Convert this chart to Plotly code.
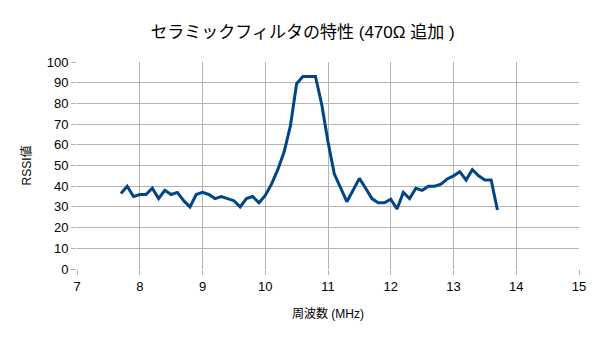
import plotly.graph_objects as go

# Frequency sweep (MHz) and measured RSSI
freq_mhz = [round(7.7 + 0.1 * i, 1) for i in range(61)]
rssi = [
    36.5, 40, 35, 36, 36, 39, 34, 38, 36, 37,
    33, 30, 36, 37, 36, 34, 35, 34, 33, 30,
    34, 35, 32, 35.5, 41, 48, 56.5, 69, 89.5, 93,
    93, 93, 79.5, 61.5, 46, 39, 32.5, 38, 43.8, 39,
    34, 32, 32, 33.7, 29, 37, 34, 39, 38, 40,
    40, 41, 43.5, 45, 47, 43, 48, 45, 43, 43,
    28.5,
]

x_ticks = list(range(7, 16))
y_ticks = list(range(0, 101, 10))

title_text = "セラミックフィルタの特性 (470Ω 追加 )"
x_title = "周波数 (MHz)"
y_title = "RSSI値"

font_family = "Liberation Sans, Noto Sans CJK JP, sans-serif"
grid_color = "#b3b3b3"

fig = go.Figure(
    go.Scatter(
        x=freq_mhz,
        y=rssi,
        mode="lines",
        line=dict(color="#004586", width=3),
        showlegend=False,
        hoverinfo="x+y",
    )
)

fig.update_layout(
    width=605,
    height=340,
    margin=dict(l=77, r=26, t=62, b=71),
    paper_bgcolor="white",
    plot_bgcolor="white",
    font=dict(family=font_family, color="#000000", size=13),
    title=dict(
        text=title_text,
        x=0.5,
        xanchor="center",
        y=0.905,
        yanchor="middle",
        font=dict(size=17, family=font_family),
    ),
)

fig.update_xaxes(
    range=[7, 15],
    tickvals=x_ticks,
    ticks="outside",
    ticklen=5,
    tickcolor=grid_color,
    showgrid=True,
    gridcolor=grid_color,
    gridwidth=1,
    showline=False,
    zeroline=False,
    tickfont=dict(size=13),
    title=dict(text=x_title, font=dict(size=12), standoff=17),
)

fig.update_yaxes(
    range=[0, 100],
    tickvals=y_ticks,
    ticks="outside",
    ticklen=5,
    tickcolor=grid_color,
    showgrid=True,
    gridcolor=grid_color,
    gridwidth=1,
    showline=False,
    zeroline=False,
    tickfont=dict(size=13),
    title=dict(text=y_title, font=dict(size=12), standoff=12),
)

fig.write_html("out.html")
